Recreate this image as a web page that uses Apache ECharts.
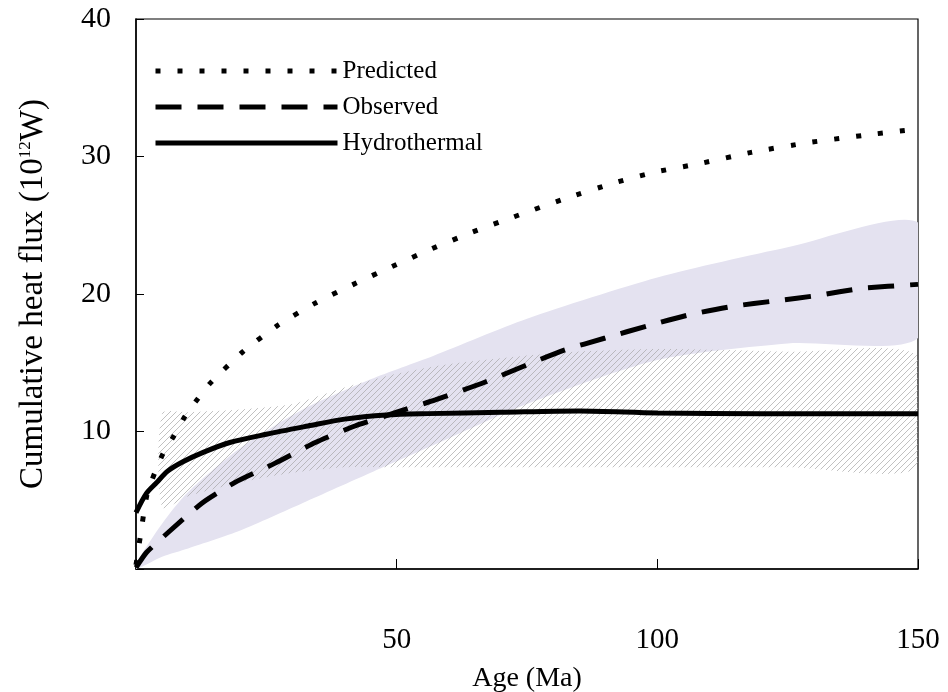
<!DOCTYPE html>
<html>
<head>
<meta charset="utf-8">
<script src="https://cdn.jsdelivr.net/npm/echarts@6/dist/echarts.min.js"></script>
<style>
  html, body { margin: 0; padding: 0; background: #fff; }
  #chart { width: 948px; height: 692px; }
</style>
</head>
<body>
<div id="chart"></div>
<script>
// curves (age in Ma, cumulative heat flux in 10^12 W)
const predictedAge = [0, 0.8, 2.1, 3.6, 5.2, 7.3, 9.4, 11.9, 14.2, 20.5, 27.1, 34.2, 41.7, 49.1, 56.8, 64.5, 72.4, 82, 91.9, 100, 108.3, 118, 128.8, 140.9, 150];
const predictedFlux = [0.3, 2.3, 5.4, 7.0, 8.4, 9.7, 11.1, 12.4, 13.5, 15.8, 17.7, 19.3, 20.7, 22.0, 23.3, 24.5, 25.6, 26.9, 28.1, 28.9, 29.5, 30.3, 31.0, 31.6, 32.0];

const observedAge = [0, 2, 6, 12.7, 19, 26.7, 34.4, 42, 50, 57.4, 67, 74.7, 82, 90, 98.3, 106.3, 114.4, 122.6, 130.9, 139, 150];
const observedFlux = [0.1, 1.2, 2.6, 4.8, 6.3, 7.7, 9.2, 10.4, 11.4, 12.3, 13.6, 14.8, 15.9, 16.8, 17.7, 18.5, 19.1, 19.5, 19.9, 20.4, 20.7];

const hydroAge = [0, 2, 4, 6, 9, 13, 18, 25, 33, 40, 48, 56, 70, 85, 100, 120, 150];
const hydroFlux = [4.1, 5.5, 6.3, 7.1, 7.8, 8.5, 9.2, 9.8, 10.4, 10.9, 11.2, 11.3, 11.4, 11.5, 11.35, 11.3, 11.3];

// uncertainty envelopes
const obsBandAge = [0, 5, 10, 20, 32, 45, 57, 75, 100, 125, 150];
const obsBandLow = [0, 0.9, 1.5, 2.8, 4.8, 7.0, 9.0, 12.0, 15.2, 16.4, 16.8];
const obsBandHigh = [0.4, 3.3, 5.6, 8.8, 11.6, 13.8, 15.5, 18.2, 21.2, 23.4, 25.2];

const hydroBandAge = [5, 10, 20, 30, 40, 50, 60, 80, 100, 125, 150];
const hydroBandLow = [4.5, 5.3, 6.3, 7.0, 7.4, 7.4, 7.4, 7.4, 7.4, 7.4, 7.4];
const hydroBandHigh = [11.3, 11.4, 11.6, 12.0, 13.2, 14.2, 14.9, 15.7, 16.0, 15.8, 15.5];

const xTicks = [0, 50, 100, 150];
const yTicks = [0, 10, 20, 30, 40];

const serif = "'Liberation Serif', 'DejaVu Serif', serif";

function pairs(xs, ys) {
  return xs.map((x, i) => [x, ys[i]]);
}

// diagonal hatch tile
const hatch = document.createElement("canvas");
hatch.width = 6;
hatch.height = 6;
const hctx = hatch.getContext("2d");
hctx.strokeStyle = "#a6a6a6";
hctx.lineWidth = 0.7;
hctx.beginPath();
hctx.moveTo(-1, 7); hctx.lineTo(7, -1);
hctx.moveTo(-4, 4); hctx.lineTo(4, -4);
hctx.moveTo(2, 10); hctx.lineTo(10, 2);
hctx.stroke();

function band(name, ages, low, high, fill, z) {
  return {
    type: "custom",
    name: name,
    z: z,
    silent: true,
    clip: true,
    data: ages.map((a, i) => [a, low[i], high[i]]),
    encode: { x: 0, y: [1, 2] },
    renderItem: (params, api) => {
      if (params.dataIndex !== 0) return;
      const pts = [];
      ages.forEach((a, i) => pts.push(api.coord([a, high[i]])));
      for (let i = ages.length - 1; i >= 0; i--) pts.push(api.coord([ages[i], low[i]]));
      return {
        type: "polygon",
        shape: { points: pts, smooth: 0.25 },
        style: { fill: fill },
      };
    },
  };
}

const chart = echarts.init(document.getElementById("chart"));
chart.setOption({
  animation: false,
  grid: {
    left: 136,
    right: 30,
    top: 19,
    bottom: 123,
    outerBoundsMode: "none",
    show: true,
    borderColor: "#000",
    borderWidth: 1.2,
  },
  legend: {
    data: ["Predicted", "Observed", "Hydrothermal"],
    orient: "vertical",
    left: 148,
    top: 53,
    itemWidth: 182,
    itemHeight: 14,
    itemGap: 10,
    lineStyle: { width: 5 },
    itemStyle: { opacity: 0 },
    textStyle: {
      fontFamily: serif,
      fontSize: 25,
      color: "#000",
      lineHeight: 26,
    },
  },
  xAxis: {
    type: "value",
    min: xTicks[0],
    max: xTicks[xTicks.length - 1],
    interval: 50,
    name: "Age (Ma)",
    nameLocation: "middle",
    nameGap: 96,
    nameTextStyle: { fontFamily: serif, fontSize: 28, color: "#000" },
    axisLine: { lineStyle: { color: "#000", width: 1.5 } },
    axisTick: { inside: true, length: 10, lineStyle: { color: "#000" } },
    axisLabel: {
      margin: 57,
      fontFamily: serif,
      fontSize: 29,
      color: "#000",
      formatter: (v) => (v === 0 ? "" : v),
    },
    splitLine: { show: false },
  },
  yAxis: {
    type: "value",
    min: yTicks[0],
    max: yTicks[yTicks.length - 1],
    interval: 10,
    name: "{a|Cumulative heat flux (10}{s|12}{a|W)}",
    nameLocation: "middle",
    nameGap: 86,
    nameTextStyle: {
      rich: {
        a: { fontFamily: serif, fontSize: 33, color: "#000" },
        s: { fontFamily: serif, fontSize: 17, color: "#000", verticalAlign: "top", padding: [0, 0, 13, 0] },
      },
    },
    axisLine: { lineStyle: { color: "#000", width: 1.5 } },
    axisTick: { inside: true, length: 8, lineStyle: { color: "#000" } },
    axisLabel: {
      margin: 25,
      fontFamily: serif,
      fontSize: 30,
      color: "#000",
      formatter: (v) => (v === 0 ? "" : v),
    },
    splitLine: { show: false },
  },
  series: [
    band("Observed range", obsBandAge, obsBandLow, obsBandHigh, "#e4e2f0", 1),
    band("Hydrothermal range", hydroBandAge, hydroBandLow, hydroBandHigh, { image: hatch, repeat: "repeat" }, 2),
    {
      name: "Predicted",
      type: "line",
      z: 5,
      symbol: "none",
      smooth: 0.2,
      data: pairs(predictedAge, predictedFlux),
      lineStyle: { color: "#000", width: 5, type: [5, 17], cap: "butt" },
    },
    {
      name: "Observed",
      type: "line",
      z: 5,
      symbol: "none",
      smooth: 0.2,
      data: pairs(observedAge, observedFlux),
      lineStyle: { color: "#000", width: 5, type: [26, 16], cap: "butt" },
    },
    {
      name: "Hydrothermal",
      type: "line",
      z: 5,
      symbol: "none",
      smooth: 0.3,
      data: pairs(hydroAge, hydroFlux),
      lineStyle: { color: "#000", width: 5, type: "solid" },
    },
  ],
});
</script>
</body>
</html>
